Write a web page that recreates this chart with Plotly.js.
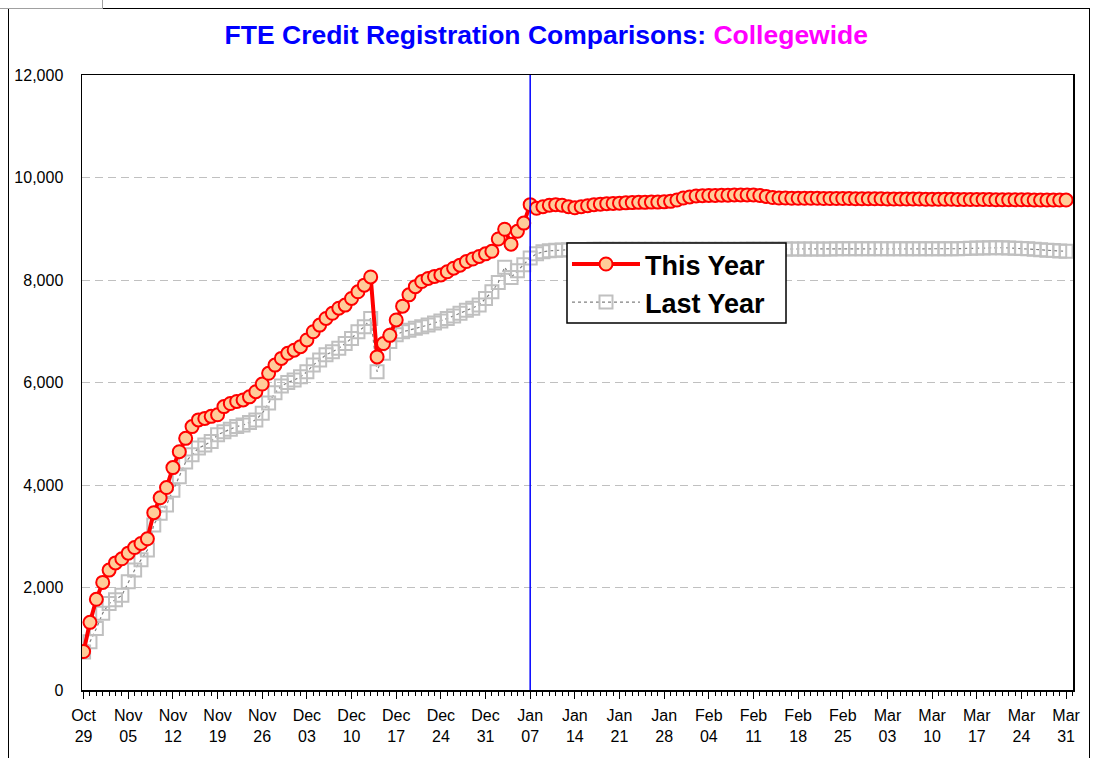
<!DOCTYPE html>
<html>
<head>
<meta charset="utf-8">
<script src="https://cdn.plot.ly/plotly-3.0.1.min.js"></script>
<style>
  html, body { margin: 0; padding: 0; background: #fff; }
  #wrap { position: relative; width: 1097px; height: 758px; overflow: hidden; }
  #chart { position: absolute; left: 0; top: 0; width: 1097px; height: 758px; }
  #frame { position: absolute; left: 8px; top: 8px; width: 1080px; height: 770px; border: 1.5px solid #000; pointer-events: none; }
  #tab { position: absolute; left: 0; top: -1px; width: 102px; height: 8px; border: 1px solid #A0A0A0; border-left: none; pointer-events: none; }
</style>
</head>
<body>
<div id="wrap">
  <div id="chart"></div>
  <div id="frame"></div>
  <div id="tab"></div>
</div>
<script>
// ---- data (one value per day, Oct 29 .. Mar 31) ----
const startDate = '2007-10-29';

const thisYear = [
  750,1320,1770,2100,2340,2480,2560,2670,2780,2860,
  2950,3460,3750,3950,4340,4650,4910,5140,5270,5300,
  5340,5370,5530,5590,5630,5660,5720,5820,5970,6180,
  6340,6470,6570,6630,6700,6830,6990,7120,7250,7350,
  7450,7510,7640,7770,7900,8060,6500,6760,6920,7220,
  7490,7710,7870,7970,8030,8070,8100,8160,8230,8290,
  8360,8410,8460,8510,8560,8800,8990,8700,8950,9110,
  9470,9400,9430,9460,9470,9460,9430,9410,9430,9450,
  9470,9480,9490,9495,9500,9505,9510,9515,9515,9520,
  9520,9525,9535,9560,9600,9620,9640,9645,9650,9650,
  9655,9655,9660,9660,9660,9660,9650,9630,9610,9600,
  9600,9595,9595,9595,9595,9595,9590,9590,9590,9590,
  9590,9585,9585,9585,9585,9585,9580,9580,9580,9580,
  9580,9580,9575,9575,9575,9575,9575,9570,9570,9570,
  9570,9570,9570,9565,9565,9565,9565,9565,9565,9560,
  9560,9560,9560,9560,9560
];

const lastYear = [
  740,940,1200,1500,1690,1760,1850,2110,2340,2540,
  2730,3220,3450,3610,3900,4160,4450,4590,4720,4780,
  4850,4980,5040,5090,5140,5170,5220,5270,5400,5600,
  5800,5930,6000,6050,6110,6210,6340,6440,6540,6600,
  6670,6760,6860,6990,7090,7250,6210,6570,6800,6930,
  6990,7020,7060,7090,7120,7160,7200,7250,7300,7350,
  7410,7450,7510,7640,7770,7950,8250,8050,8180,8300,
  8430,8510,8550,8570,8580,8585,8590,8590,8595,8595,
  8600,8600,8600,8600,8600,8600,8600,8600,8600,8600,
  8600,8600,8600,8600,8600,8600,8600,8600,8600,8600,
  8600,8600,8600,8600,8605,8605,8605,8605,8605,8605,
  8605,8605,8605,8605,8605,8605,8605,8605,8610,8610,
  8610,8610,8610,8610,8610,8610,8610,8610,8610,8610,
  8610,8610,8610,8610,8610,8610,8610,8610,8615,8620,
  8625,8625,8630,8630,8630,8625,8620,8615,8610,8600,
  8590,8580,8575,8565,8560
];

const tickLabels = [
  'Oct<br>29','Nov<br>05','Nov<br>12','Nov<br>19','Nov<br>26',
  'Dec<br>03','Dec<br>10','Dec<br>17','Dec<br>24','Dec<br>31',
  'Jan<br>07','Jan<br>14','Jan<br>21','Jan<br>28',
  'Feb<br>04','Feb<br>11','Feb<br>18','Feb<br>25',
  'Mar<br>03','Mar<br>10','Mar<br>17','Mar<br>24','Mar<br>31'
];

const seriesNames = ['This Year', 'Last Year'];
const markerLine = '2008-01-07';

// ---- build daily date categories ----
const DAY = 86400000;
const t0 = Date.parse(startDate + 'T00:00:00Z');
function iso(ms) { return new Date(ms).toISOString().slice(0, 10); }
const dates = thisYear.map((_, i) => iso(t0 + i * DAY));
const tickVals = tickLabels.map((_, i) => dates[i * 7]);

const FONT = 'Liberation Sans, Arial, sans-serif';

const traces = [
  {
    x: dates, y: lastYear, name: seriesNames[1], type: 'scatter', mode: 'lines+markers',
    line: { color: '#808080', width: 1.2, dash: '3px,3px' },
    marker: { symbol: 'square-open', size: 13, color: '#C0C0C0', line: { color: '#C0C0C0', width: 2 } }
  },
  {
    x: dates, y: thisYear, name: seriesNames[0], type: 'scatter', mode: 'lines+markers',
    line: { color: '#FF0000', width: 4 },
    marker: { symbol: 'circle', size: 13, color: '#FFCC99', line: { color: '#FF0000', width: 2 } }
  }
];

const layout = {
  width: 1097, height: 758,
  paper_bgcolor: '#ffffff', plot_bgcolor: '#ffffff',
  margin: { l: 82, r: 24, t: 75, b: 68 },
  font: { family: FONT, color: '#000' },
  title: {
    text: '<span style="color:#0000FF">FTE Credit Registration Comparisons: </span><span style="color:#FF00FF">Collegewide</span>',
    font: { family: FONT, size: 26.5, weight: 'bold', color: '#0000FF' },
    x: 0.498, xanchor: 'center', y: 0.954, yanchor: 'middle'
  },
  showlegend: true,
  legend: {
    x: 0.4894, y: 0.7318, xanchor: 'left', yanchor: 'top',
    bgcolor: 'rgba(0,0,0,0)', borderwidth: 0,
    font: { family: FONT, size: 27, weight: 'bold', color: '#000' },
    traceorder: 'reversed', itemwidth: 68
  },
  xaxis: {
    type: 'date',
    range: ['2007-10-28 18:00', '2008-04-01 02:00'],
    tickmode: 'array', tickvals: tickVals, ticktext: tickLabels,
    ticks: 'outside', ticklen: 7, tickcolor: '#000', tickwidth: 1,
    ticklabelstandoff: 3,
    minor: { tickmode: 'linear', tick0: startDate, dtick: DAY, ticks: 'outside', ticklen: 4, tickcolor: '#000', showgrid: false },
    showline: true, linecolor: '#000', linewidth: 1.5, mirror: true,
    showgrid: false, zeroline: false,
    tickfont: { family: FONT, size: 16, color: '#000' }
  },
  yaxis: {
    range: [0, 12000], dtick: 2000, tickformat: ',d',
    ticks: '', ticklabelstandoff: 14,
    showline: true, linecolor: '#000', linewidth: 1.5, mirror: true,
    showgrid: true, gridcolor: '#C0C0C0', griddash: '8px,5px', gridwidth: 1,
    zeroline: false,
    tickfont: { family: FONT, size: 16, color: '#000' }
  },
  shapes: [
    { type: 'line', xref: 'x', yref: 'paper', x0: markerLine, x1: markerLine, y0: 0, y1: 1,
      line: { color: '#0000FF', width: 1.5 }, layer: 'above' },
    // legend box
    { type: 'rect', xref: 'paper', yref: 'paper', x0: 0.4894, x1: 0.7104, y0: 0.5967, y1: 0.7268,
      fillcolor: '#ffffff', line: { color: '#000000', width: 1.5 }, layer: 'above' }
  ]
};

Plotly.newPlot('chart', traces, layout, { displayModeBar: false, staticPlot: true });
</script>
</body>
</html>
